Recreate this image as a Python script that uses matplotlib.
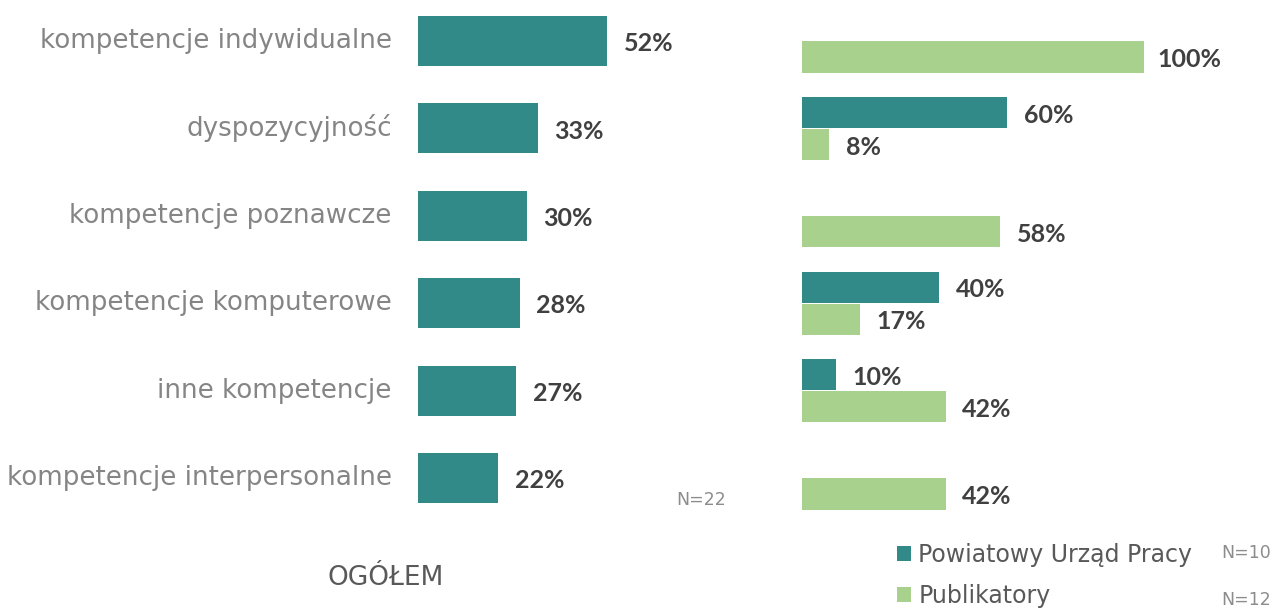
import matplotlib.pyplot as plt
import numpy as np

categories = [
    "kompetencje indywidualne",
    "dyspozycyjność",
    "kompetencje poznawcze",
    "kompetencje komputerowe",
    "inne kompetencje",
    "kompetencje interpersonalne",
]
ogolem = [52, 33, 30, 28, 27, 22]
pup = [0, 60, 0, 40, 10, 0]
publikatory = [100, 8, 58, 17, 42, 42]

teal = "#318a88"
green = "#a9d18e"
W, H = 1275, 609
light = ["DejaVu Sans"]
bold = ["Lato", "DejaVu Sans"]

fig = plt.figure(figsize=(W / 100, H / 100), dpi=100)

row = 87.4
top_px, bot_px = 0, 520
ylim = (5 + (bot_px - 478) / row, 0 - (41 - top_px) / row)


def make_axes(x0_px, px_per_100):
    ax = fig.add_axes([x0_px / W, 1 - bot_px / H, px_per_100 / W, (bot_px - top_px) / H])
    ax.set_xlim(0, 100)
    ax.set_ylim(*ylim)
    ax.axis("off")
    return ax


def value_label(ax, v, yi, dx):
    ax.annotate(f"{v}%", (v, yi), xytext=(dx, -2), textcoords="offset points",
                va="center", ha="left", fontsize=18, fontweight="bold",
                color="#404040", family=bold)


y = np.arange(len(categories))

# left: ogolem
ax1 = make_axes(418, 363)
ax1.barh(y, ogolem, height=0.57, color=teal)
for yi, v, lab in zip(y, ogolem, categories):
    value_label(ax1, v, yi, 12)
    ax1.annotate(lab, (0, yi), xytext=(-19, 0), textcoords="offset points",
                 va="center", ha="right", fontsize=18.8, color="#858585", family=light)

# right: pup vs publikatory
ax2 = make_axes(802, 342)
off = 0.183
b1 = ax2.barh(y - off, pup, height=0.355, color=teal, label="Powiatowy Urząd Pracy")
b2 = ax2.barh(y + off, publikatory, height=0.355, color=green, label="Publikatory")
for yi, v in zip(y, pup):
    if v > 0:
        value_label(ax2, v, yi - off, 12)
for yi, v in zip(y, publikatory):
    value_label(ax2, v, yi + off, 10 if v >= 100 else 12)

leg = fig.legend(handles=[b1, b2], loc="upper left", bbox_to_anchor=(876 / W, 1 - 522 / H),
                 frameon=False, handlelength=0.6, handleheight=0.6, handletextpad=0.3,
                 labelspacing=0.72, prop={"family": light, "size": 17})
for t in leg.get_texts():
    t.set_color("#595959")

fig.text(676 / W, 1 - 500 / H, "N=22", fontsize=12.5, color="#8c8c8c", va="center", family=light)
fig.text(1221 / W, 1 - 553 / H, "N=10", fontsize=12.5, color="#8c8c8c", va="center", family=light)
fig.text(1221 / W, 1 - 600 / H, "N=12", fontsize=12.5, color="#8c8c8c", va="center", family=light)
fig.text(386 / W, 1 - 578 / H, "OGÓŁEM", fontsize=19, color="#595959", va="center",
         ha="center", family=light)

fig.savefig("out.png", dpi=100)
